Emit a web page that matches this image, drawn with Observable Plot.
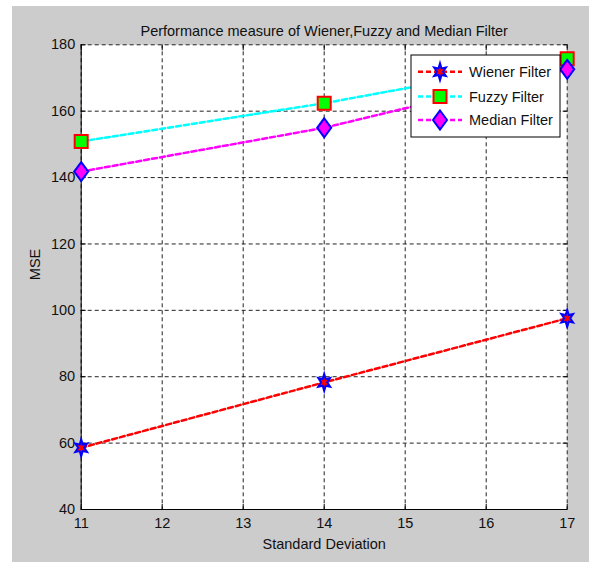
<!DOCTYPE html>
<html><head><meta charset="utf-8">
<script src="https://cdn.jsdelivr.net/npm/d3@7"></script>
<script src="https://cdn.jsdelivr.net/npm/@observablehq/plot@0.6"></script>
<style>
body{margin:0;background:#fff;}
#wrap{position:absolute;left:12px;top:6px;width:577px;height:556px;background:#cccccc;}
</style></head><body><div id="wrap"></div>
<script>
const title = "Performance measure of Wiener,Fuzzy and Median Filter";
const xLabel = "Standard Deviation";
const yLabel = "MSE";
const stdDev = [11, 14, 17];
const wiener = [58.6, 78.3, 97.6];
const fuzzy = [150.9, 162.4, 175.8];
const median = [141.8, 155.0, 172.6];
const seriesNames = ["Wiener Filter", "Fuzzy Filter", "Median Filter"];
const xTicks = [11, 12, 13, 14, 15, 16, 17];
const yTicks = [40, 60, 80, 100, 120, 140, 160, 180];

const lineColors = ["#ff0000", "#00ffff", "#ff00ff"];
const markerFills = ["#ff0000", "#00ff00", "#ff00ff"];
const markerStrokes = ["#0000ff", "#ff0000", "#0000ff"];

const hexagram = {draw(ctx) {
  const R = 8.5, r = 3.8;
  for (let i = 0; i < 12; i++) {
    const a = -Math.PI / 2 + i * Math.PI / 6, rr = i % 2 ? r : R;
    const x = 0.8 * rr * Math.cos(a), y = rr * Math.sin(a);
    i ? ctx.lineTo(x, y) : ctx.moveTo(x, y);
  }
  ctx.closePath();
}};
const square = {draw(ctx) { ctx.rect(-6.5, -6.5, 13, 13); }};
const diamond = {draw(ctx) {
  ctx.moveTo(0, -9.5); ctx.lineTo(7, 0); ctx.lineTo(0, 9.5); ctx.lineTo(-7, 0); ctx.closePath();
}};
const symbols = [hexagram, square, diamond];

const seriesValues = [wiener, fuzzy, median];
const series = seriesValues.map((vals, s) => stdDev.map((x, i) => ({x, y: vals[i], s})));

const marks = [
  Plot.frame({fill: "white", stroke: "none"}),
  Plot.gridX(xTicks, {stroke: "#222", strokeOpacity: 1, strokeDasharray: "4,3"}),
  Plot.gridY(yTicks, {stroke: "#222", strokeOpacity: 1, strokeDasharray: "4,3"}),
  Plot.ruleX([xTicks[0]], {stroke: "#000"}),
  Plot.ruleY([yTicks[0]], {stroke: "#000"}),
  Plot.axisX(xTicks, {anchor: "bottom", tickSize: -5, tickPadding: 13, label: null, stroke: "#000", fontSize: 14.5}),
  Plot.axisX(xTicks, {anchor: "top", tickSize: -5, tickFormat: () => "", label: null, stroke: "#000"}),
  Plot.axisY(yTicks, {anchor: "left", tickSize: -5, tickPadding: 11, label: null, stroke: "#000", fontSize: 14.5}),
  Plot.axisY(yTicks, {anchor: "right", tickSize: -5, tickFormat: () => "", label: null, stroke: "#000"})
];
series.forEach((d, s) => {
  marks.push(Plot.line(d, {x: "x", y: "y", stroke: lineColors[s], strokeWidth: 2.5, strokeDasharray: "5,3"}));
});
series.forEach((d, s) => {
  marks.push(Plot.dot(d, {x: "x", y: "y", symbol: symbols[s], r: 5, fill: markerFills[s], stroke: markerStrokes[s], strokeWidth: 2}));
});
marks.push(
  Plot.text([title], {frameAnchor: "top", dy: -19, text: d => d, fill: "#111", fontSize: 14.5}),
  Plot.text([xLabel], {frameAnchor: "bottom", dy: 39, text: d => d, fill: "#111", fontSize: 14.5}),
  Plot.text([yLabel], {frameAnchor: "left", dx: -46, dy: 3, rotate: -90, text: d => d, fill: "#111", fontSize: 14.5})
);

const plot = Plot.plot({
  width: 577, height: 556,
  marginLeft: 68.7, marginRight: 22.3, marginTop: 38.3, marginBottom: 53,
  x: {domain: [11, 17]},
  y: {domain: [40, 180]},
  style: {background: "transparent", fontFamily: "'Liberation Sans', Arial, sans-serif", fontSize: "14px", color: "#111"},
  marks
});
document.getElementById("wrap").appendChild(plot);

// legend
const svg = d3.select(plot);
const lg = svg.append("g").attr("font-family", "'Liberation Sans', Arial, sans-serif")
  .attr("font-size", 14.5).attr("text-anchor", "start");
lg.append("rect").attr("x", 399).attr("y", 49).attr("width", 149).attr("height", 82)
  .attr("fill", "white").attr("stroke", "#000").attr("stroke-width", 1);
const rowY = [65.7, 90.5, 114];
seriesNames.forEach((name, s) => {
  const y = rowY[s];
  lg.append("line").attr("x1", 406).attr("x2", 450).attr("y1", y).attr("y2", y)
    .attr("stroke", lineColors[s]).attr("stroke-width", 2.5).attr("stroke-dasharray", "5,3");
  const p = d3.path();
  symbols[s].draw(p);
  lg.append("path").attr("d", p.toString()).attr("transform", `translate(428,${y})`)
    .attr("fill", markerFills[s]).attr("stroke", markerStrokes[s]).attr("stroke-width", 2);
  lg.append("text").attr("x", 457).attr("y", y).attr("dy", "0.35em").attr("text-anchor", "start")
    .attr("fill", "#111").text(name);
});
</script></body></html>
